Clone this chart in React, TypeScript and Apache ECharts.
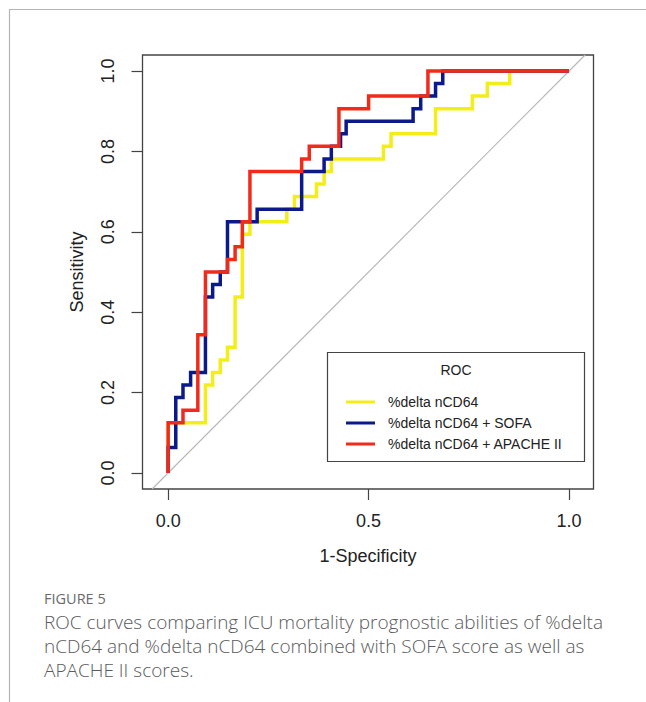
import React, { useEffect, useRef } from "react";
import * as echarts from "echarts";

// ROC curve vertices (1-Specificity, Sensitivity)
const SERIES_NAMES = ["%delta nCD64", "%delta nCD64 + SOFA", "%delta nCD64 + APACHE II"];

const fprDelta = [0, 0, 0.093, 0.093, 0.111, 0.111, 0.13, 0.13, 0.148, 0.148, 0.167, 0.167, 0.185, 0.185, 0.204, 0.204, 0.296, 0.296, 0.315, 0.315, 0.37, 0.37, 0.389, 0.389, 0.407, 0.407, 0.537, 0.537, 0.556, 0.556, 0.667, 0.667, 0.759, 0.759, 0.796, 0.796, 0.852, 0.852, 1];
const tprDelta = [0, 0.125, 0.125, 0.219, 0.219, 0.25, 0.25, 0.281, 0.281, 0.313, 0.313, 0.438, 0.438, 0.594, 0.594, 0.625, 0.625, 0.656, 0.656, 0.688, 0.688, 0.719, 0.719, 0.75, 0.75, 0.781, 0.781, 0.813, 0.813, 0.844, 0.844, 0.906, 0.906, 0.938, 0.938, 0.969, 0.969, 1, 1];

const fprSofa = [0, 0, 0.019, 0.019, 0.037, 0.037, 0.056, 0.056, 0.093, 0.093, 0.111, 0.111, 0.13, 0.13, 0.148, 0.148, 0.222, 0.222, 0.333, 0.333, 0.389, 0.389, 0.407, 0.407, 0.43, 0.43, 0.444, 0.444, 0.611, 0.611, 0.63, 0.63, 0.667, 0.667, 0.685, 0.685, 1];
const tprSofa = [0, 0.063, 0.063, 0.188, 0.188, 0.219, 0.219, 0.25, 0.25, 0.438, 0.438, 0.469, 0.469, 0.5, 0.5, 0.625, 0.625, 0.656, 0.656, 0.75, 0.75, 0.781, 0.781, 0.813, 0.813, 0.844, 0.844, 0.875, 0.875, 0.906, 0.906, 0.938, 0.938, 0.969, 0.969, 1, 1];

const fprApache = [0, 0, 0.037, 0.037, 0.074, 0.074, 0.093, 0.093, 0.148, 0.148, 0.167, 0.167, 0.185, 0.185, 0.204, 0.204, 0.333, 0.333, 0.352, 0.352, 0.426, 0.426, 0.5, 0.5, 0.648, 0.648, 1];
const tprApache = [0, 0.125, 0.125, 0.156, 0.156, 0.344, 0.344, 0.5, 0.5, 0.531, 0.531, 0.563, 0.563, 0.625, 0.625, 0.75, 0.75, 0.781, 0.781, 0.813, 0.813, 0.906, 0.906, 0.938, 0.938, 1, 1];

const diagX = [-0.04, 1.04];
const diagY = [-0.04, 1.04];

const xTicks = [0, 0.5, 1];
const yTicks = [0, 0.2, 0.4, 0.6, 0.8, 1];

const CAPTION_LABEL = "FIGURE 5";
const CAPTION_LINES = [
  "ROC curves comparing ICU mortality prognostic abilities of %delta",
  "nCD64 and %delta nCD64 combined with SOFA score as well as",
  "APACHE II scores.",
];

const zip = (xs: number[], ys: number[]) => xs.map((x, i) => [x, ys[i]]);

const FONT = "'Liberation Sans', Arial, sans-serif";

export default function App() {
  const ref = useRef<HTMLDivElement>(null);
  useEffect(() => {
    if (!ref.current) return;
    const chart = echarts.init(ref.current, null, { renderer: "svg" });
    const colors = ["#f3ee17", "#0a1a8c", "#f22a1a"];
    const curves = [
      zip(fprDelta, tprDelta),
      zip(fprSofa, tprSofa),
      zip(fprApache, tprApache),
    ];
    chart.setOption({
      animation: false,
      backgroundColor: "#ffffff",
      grid: {
        left: 142.5,
        top: 55,
        width: 451,
        height: 434,
        show: true,
        borderColor: "#444",
        borderWidth: 1.3,
        backgroundColor: "transparent",
      },
      xAxis: {
        type: "value",
        min: -0.064,
        max: 1.061,
        name: "1-Specificity",
        nameLocation: "middle",
        nameGap: 58,
        nameTextStyle: { fontSize: 18, color: "#222", fontFamily: FONT },
        axisLine: { show: false, onZero: false },
        splitLine: { show: false },
        axisTick: { show: true, length: 11, customValues: xTicks, lineStyle: { color: "#444", width: 1.2 } },
        axisLabel: {
          customValues: xTicks,
          margin: 23,
          fontSize: 18,
          color: "#222",
          fontFamily: FONT,
          formatter: (v: number) => v.toFixed(1),
        },
      },
      yAxis: {
        type: "value",
        min: -0.04,
        max: 1.04,
        name: "Sensitivity",
        nameLocation: "middle",
        nameGap: 57,
        nameTextStyle: { fontSize: 18, color: "#222", fontFamily: FONT },
        axisLine: { show: false, onZero: false },
        splitLine: { show: false },
        axisTick: { show: true, length: 11, customValues: yTicks, lineStyle: { color: "#444", width: 1.2 } },
        axisLabel: {
          customValues: yTicks,
          margin: 26,
          rotate: 90,
          fontSize: 18,
          color: "#222",
          fontFamily: FONT,
          formatter: (v: number) => v.toFixed(1),
        },
      },
      legend: {
        show: true,
        orient: "vertical",
        left: 341,
        top: 390,
        itemWidth: 29,
        itemHeight: 3,
        itemGap: 7,
        icon: "rect",
        selectedMode: false,
        data: SERIES_NAMES,
        textStyle: { fontSize: 14, color: "#222", fontFamily: FONT, padding: [0, 0, 0, 8] },
      },
      graphic: [
        { type: "line", shape: { x1: 9, y1: 9.5, x2: 646, y2: 9.5 }, style: { stroke: "#b5b5b5", lineWidth: 1.2 } },
        { type: "line", shape: { x1: 9.5, y1: 9, x2: 9.5, y2: 702 }, style: { stroke: "#b5b5b5", lineWidth: 1.2 } },
        { type: "rect", shape: { x: 327.5, y: 352.5, width: 257, height: 109 }, style: { fill: "none", stroke: "#444", lineWidth: 1.2 }, z: 10 },
        { type: "text", x: 456, y: 370, style: { text: "ROC", font: `14px ${FONT}`, fill: "#222", align: "center", verticalAlign: "middle" }, z: 10 },
        { type: "text", x: 44, y: 598, style: { text: CAPTION_LABEL, font: `500 14.5px 'Open Sans', sans-serif`, fill: "#6a6a6a", verticalAlign: "middle" } },
        ...CAPTION_LINES.map((t, i) => ({
          type: "text",
          x: 44,
          y: 622 + i * 24,
          style: { text: t, font: `300 19px 'Open Sans', sans-serif`, fill: "#5a5a5a", verticalAlign: "middle" },
        })),
      ],
      series: [
        {
          type: "line",
          name: "diagonal",
          data: zip(diagX, diagY),
          symbol: "none",
          silent: true,
          lineStyle: { color: "#b8b8b8", width: 1.2 },
          z: 1,
        },
        ...curves.map((d, i) => ({
          type: "line",
          name: SERIES_NAMES[i],
          data: d,
          symbol: "none",
          showSymbol: false,
          color: colors[i],
          lineStyle: { color: colors[i], width: 3.5, join: "miter", cap: "butt" },
          z: 2 + i,
        })),
      ],
    });
    return () => chart.dispose();
  }, []);
  return (
    <div
      ref={ref}
      style={{ position: "fixed", left: 0, top: 0, width: 646, height: 702, background: "#fff" }}
    />
  );
}
